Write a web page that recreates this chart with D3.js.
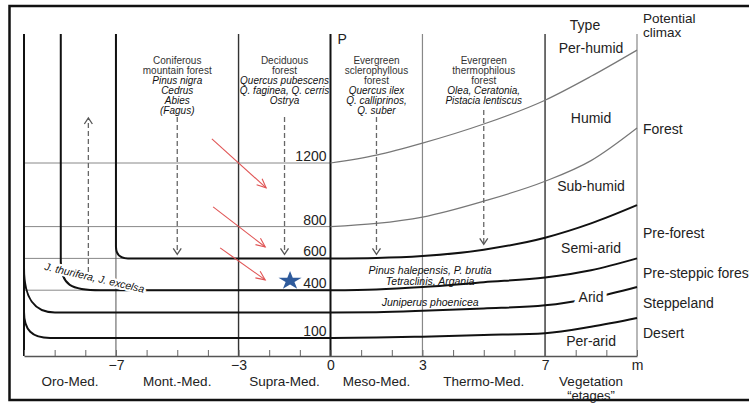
<!DOCTYPE html>
<html>
<head>
<meta charset="utf-8">
<script src="https://cdn.jsdelivr.net/npm/d3@7"></script>
<style>
body { margin: 0; background: #fff; }
svg { display: block; font-family: "Liberation Sans", Arial, sans-serif; }
</style>
</head>
<body>
<script>
var width = 749, height = 403;
var margin = {top: 34, right: 112, bottom: 47, left: 24};
var innerW = width - margin.left - margin.right,
    innerH = height - margin.top - margin.bottom;

// m axis
const mTicks = d3.range(-10, 11);
const mLabelValues = [-7, -3, 0, 3, 7, 10];
const mLabelText = ["\u22127", "\u22123", "0", "3", "7", "m"];
const etageBounds = [-10, -7, -3, 0, 3, 7, 10];
const etageNames = ["Oro-Med.", "Mont.-Med.", "Supra-Med.", "Meso-Med.", "Thermo-Med.", "Vegetation"];

// P axis
const pLabels = [1200, 800, 600, 400, 100];
const pGrid = [1200, 800, 600, 400];

// boundary curves, right of P axis
const curveM = [0, 1.5, 3, 5, 7, 8.5, 10];
const perHumidP = [1200, 1250, 1325, 1445, 1595, 1745, 1910];
const humidP = [800, 820, 860, 960, 1085, 1215, 1420];
const semiAridP = [600, 603, 615, 655, 730, 820, 935];
const aridP = [400, 405, 420, 450, 480, 525, 600];
const steppeP = [260, 262, 270, 285, 305, 350, 420];
const desertP = [100, 102, 108, 118, 130, 170, 225];

// left bends [m, P] (start, c1, c2, end)
const jCorner = [[-8.8, 580], [-8.8, 430], [-8.45, 400], [-7.5, 400]];
const steppeCorner = [[-10, 540], [-10, 340], [-9.64, 260], [-8.99, 260]];
const desertCorner = [[-10, 263], [-10, 150], [-9.74, 100], [-9.15, 100]];

// vegetation belts
const forestM = [-5, -1.5, 1.5, 5];
const forestNames = [["Coniferous", "mountain forest"], ["Deciduous", "forest"],
  ["Evergreen", "sclerophyllous", "forest"], ["Evergreen", "thermophilous", "forest"]];
const forestSpecies = [["Pinus nigra", "Cedrus", "Abies", "(Fagus)"],
  ["Quercus pubescens", "Q. faginea, Q. cerris", "Ostrya"],
  ["Quercus ilex", "Q. calliprinos,", "Q. suber"],
  ["Olea, Ceratonia,", "Pistacia lentiscus"]];
const lowTexts = ["Pinus halepensis, P. brutia", "Tetraclinis, Argania", "Juniperus phoenicea"];
const lowTextP = [502, 434, 300];

// dashed arrows
const dashM = [-7.9, -5, -1.5, 1.5, 5];
const dashFromP = [514, 1489, 1489, 1489, 1533];
const dashToP = [1483, 625, 625, 625, 688];

// red arrows
const redM0 = [-3.87, -3.83, -3.6];
const redP0 = [1352, 924, 666];
const redM1 = [-2.1, -2.13, -2.13];
const redP1 = [1044, 672, 465];
const starM = -1.32, starP = 459;

// right labels
const typeNames = ["Per-humid", "Humid", "Sub-humid", "Semi-arid", "Arid", "Per-arid"];
const typeP = [1892, 1452, 1024, 634, 326, 49];
const climaxNames = ["Forest", "Pre-forest", "Pre-steppic forest", "Steppeland", "Desert"];
const climaxP = [1382, 728, 477, 288, 100];

const svg = d3.select("body").append("svg")
    .attr("width", width)
    .attr("height", height);

svg.append("rect").attr("width", width).attr("height", height).attr("fill", "#fff");
svg.append("rect")
    .attr("x", 9.5).attr("y", 6).attr("width", 760).attr("height", 394)
    .attr("fill", "none").attr("stroke", "#111").attr("stroke-width", 2.5);

const g = svg.append("g").attr("transform", `translate(${margin.left},${margin.top})`);

const x = d3.scaleLinear().domain([-10, 10]).range([0, innerW]);
const y = d3.scaleLinear().domain([0, 1200]).range([319.8, 129]);

// horizontal grid left of P axis
g.append("g").selectAll("line")
  .data(pGrid)
  .join("line")
    .attr("x1", x(-10)).attr("x2", x(0))
    .attr("y1", d => y(d)).attr("y2", d => y(d))
    .attr("stroke", "#888").attr("stroke-width", 1);

// vertical belt edges
const vStyle = m => (m === -10 || m === 0) ? [2, "#111"]
  : (m === 3 || m === 10) ? [1.2, "#888"]
  : (m === -7) ? [1, "#555"] : [1.4, "#333"];

g.append("g").selectAll("line")
  .data(etageBounds)
  .join("line")
    .attr("x1", d => x(d)).attr("x2", d => x(d))
    .attr("y1", 0).attr("y2", innerH)
    .attr("stroke", d => vStyle(d)[1])
    .attr("stroke-width", d => vStyle(d)[0]);

// axis
const xAxis = d3.axisBottom(x)
    .tickValues(mTicks)
    .tickSize(-6)
    .tickSizeOuter(0)
    .tickPadding(4)
    .tickFormat(d => {
      const i = mLabelValues.indexOf(d);
      return i >= 0 ? mLabelText[i] : "";
    });

const ax = g.append("g").attr("transform", `translate(0,${innerH})`).call(xAxis);
ax.select(".domain").attr("stroke", "#555").attr("stroke-width", 1.5);
ax.selectAll(".tick line").attr("stroke", "#666");
ax.selectAll(".tick text").attr("font-size", 14).attr("fill", "#222")
    .attr("font-family", "Liberation Sans, Arial, sans-serif");

// etage names
g.append("g").selectAll("text")
  .data(etageNames)
  .join("text")
    .attr("x", (d, i) => x((etageBounds[i] + etageBounds[i + 1]) / 2))
    .attr("y", innerH + 30)
    .attr("text-anchor", "middle")
    .attr("font-size", 13.5).attr("fill", "#222")
    .text(d => d);
g.append("text")
    .attr("x", x(8.5)).attr("y", innerH + 44)
    .attr("text-anchor", "middle")
    .attr("font-size", 13).attr("fill", "#222")
    .text("\u201cetages\u201d");

// curves right of P axis
const lineR = d3.line()
    .x((d, i) => x(curveM[i]))
    .y(d => y(d))
    .curve(d3.curveMonotoneX);

const curves = [[perHumidP, false], [humidP, false], [semiAridP, true],
  [aridP, true], [steppeP, true], [desertP, true]];

g.append("g").selectAll("path")
  .data(curves)
  .join("path")
    .attr("d", d => lineR(d[0]))
    .attr("fill", "none")
    .attr("stroke", d => d[1] ? "#111" : "#777")
    .attr("stroke-width", d => d[1] ? 2 : 1.2);

// left parts of the thick boundaries
const r = 12;
const p600 = d3.path();
p600.moveTo(x(-7), 0);
p600.lineTo(x(-7), y(600) - r);
p600.quadraticCurveTo(x(-7), y(600), x(-7) + r, y(600));
p600.lineTo(x(0), y(600));

function bend(c, top) {
  const p = d3.path();
  if (top) {
    p.moveTo(x(c[0][0]), 0);
    p.lineTo(x(c[0][0]), y(c[0][1]));
  } else {
    p.moveTo(x(c[0][0]), y(c[0][1]));
  }
  p.bezierCurveTo(x(c[1][0]), y(c[1][1]), x(c[2][0]), y(c[2][1]), x(c[3][0]), y(c[3][1]));
  p.lineTo(x(0), y(c[3][1]));
  return p.toString();
}

g.append("g").selectAll("path")
  .data([p600.toString(), bend(jCorner, true), bend(steppeCorner, false), bend(desertCorner, false)])
  .join("path")
    .attr("d", d => d)
    .attr("fill", "none")
    .attr("stroke", "#111")
    .attr("stroke-width", 2);

// P axis labels
g.append("g").selectAll("text")
  .data(pLabels)
  .join("text")
    .attr("x", x(0) - 4)
    .attr("y", d => y(d) - 2)
    .attr("text-anchor", "end")
    .attr("font-size", 14).attr("fill", "#222")
    .text(d => d);

g.append("text")
    .attr("x", x(0) + 7).attr("y", 10)
    .attr("font-size", 14).attr("fill", "#222")
    .text("P");

// dashed arrows
dashM.forEach((m, i) => {
  const y0 = y(dashFromP[i]), y1 = y(dashToP[i]);
  const s = y1 > y0 ? 1 : -1;
  g.append("line")
      .attr("x1", x(m)).attr("x2", x(m))
      .attr("y1", y0).attr("y2", y1 - s)
      .attr("stroke", "#666").attr("stroke-width", 1.3)
      .attr("stroke-dasharray", "5,3");
  g.append("path")
      .attr("d", `M${x(m) - 4},${y1 - 6 * s}L${x(m)},${y1}L${x(m) + 4},${y1 - 6 * s}`)
      .attr("fill", "none").attr("stroke", "#555").attr("stroke-width", 1.3);
});

// red arrows
redM0.forEach((m, i) => {
  const xa = x(m), ya = y(redP0[i]), xb = x(redM1[i]), yb = y(redP1[i]);
  const a = Math.atan2(yb - ya, xb - xa);
  const h = 10, w = 0.42;
  g.append("line")
      .attr("x1", xa).attr("y1", ya).attr("x2", xb).attr("y2", yb)
      .attr("stroke", "#e05555").attr("stroke-width", 1.1);
  g.append("path")
      .attr("d", `M${xb - h * Math.cos(a - w)},${yb - h * Math.sin(a - w)}L${xb},${yb}L${xb - h * Math.cos(a + w)},${yb - h * Math.sin(a + w)}`)
      .attr("fill", "none").attr("stroke", "#e05555").attr("stroke-width", 1.1);
});

// star
g.append("path")
    .attr("d", d3.symbol(d3.symbolStar, 150)())
    .attr("transform", `translate(${x(starM)},${y(starP)}) scale(1.05,0.85)`)
    .attr("fill", "#2f5b9c");

// belt texts
forestM.forEach((m, i) => {
  const lines = forestNames[i].map(t => [t, false]).concat(forestSpecies[i].map(t => [t, true]));
  g.append("g").selectAll("text")
    .data(lines)
    .join("text")
      .attr("x", x(m))
      .attr("y", (d, j) => 30 + j * 9.9)
      .attr("text-anchor", "middle")
      .attr("font-size", 10)
      .attr("font-style", d => d[1] ? "italic" : "normal")
      .attr("fill", d => d[1] ? "#111" : "#333")
      .text(d => d[0]);
});

g.append("g").selectAll("text")
  .data(lowTexts)
  .join("text")
    .attr("x", x(3.25))
    .attr("y", (d, i) => y(lowTextP[i]))
    .attr("text-anchor", "middle")
    .attr("font-size", 10.5)
    .attr("font-style", "italic")
    .attr("fill", "#111")
    .text(d => d);

g.append("text")
    .attr("transform", `translate(${x(-9.35)},${y(528)}) rotate(13)`)
    .attr("font-size", 10.5)
    .attr("font-style", "italic")
    .attr("fill", "#111")
    .attr("stroke", "#fff")
    .attr("stroke-width", 4)
    .attr("paint-order", "stroke")
    .text("J. thurifera, J. excelsa");

// type labels
g.append("text")
    .attr("x", x(8.5) - 6).attr("y", -4)
    .attr("text-anchor", "middle")
    .attr("font-size", 14).attr("fill", "#222")
    .text("Type");

g.append("g").selectAll("text")
  .data(typeNames)
  .join("text")
    .attr("x", x(8.5))
    .attr("y", (d, i) => y(typeP[i]))
    .attr("text-anchor", "middle")
    .attr("font-size", 14).attr("fill", "#222")
    .attr("stroke", d => d === "Arid" ? "#fff" : "none")
    .attr("stroke-width", 8)
    .attr("paint-order", "stroke")
    .text(d => d);

// potential climax labels
g.append("g").selectAll("text")
  .data(["Potential", "climax"])
  .join("text")
    .attr("x", x(10) + 6)
    .attr("y", (d, i) => -11 + i * 14)
    .attr("font-size", 13.5).attr("fill", "#222")
    .text(d => d);

g.append("g").selectAll("text")
  .data(climaxNames)
  .join("text")
    .attr("x", x(10) + 6)
    .attr("y", (d, i) => y(climaxP[i]))
    .attr("font-size", 14).attr("fill", "#222")
    .text(d => d);
</script>
</body>
</html>
